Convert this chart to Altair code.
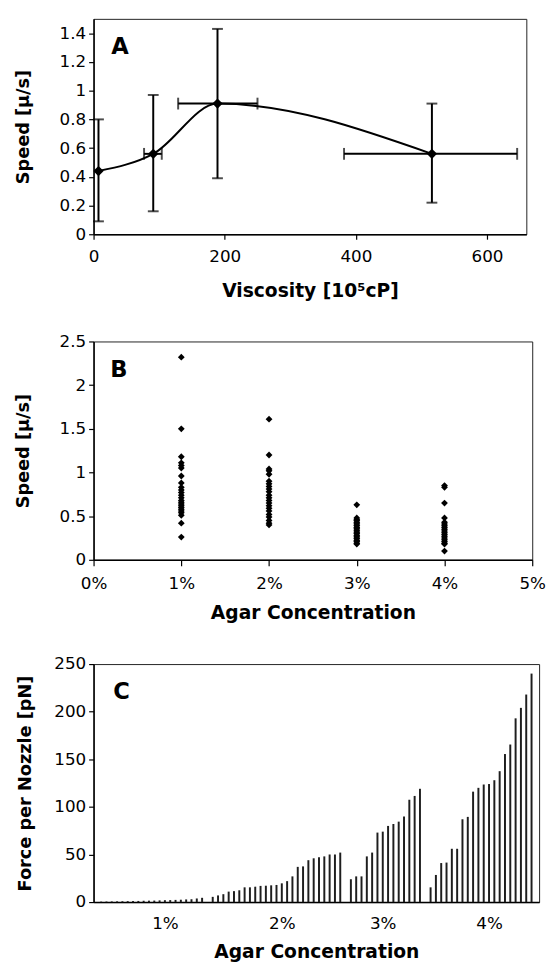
import altair as alt
import pandas as pd

FONT = "DejaVu Sans"

# ---------------- Panel A ----------------
visc = [7.5, 91, 189, 516]
speed_a = [0.44, 0.56, 0.91, 0.56]
speed_lo = [0.09, 0.16, 0.39, 0.22]
speed_hi = [0.80, 0.97, 1.43, 0.91]
visc_lo = [7.5, 77, 129, 382]
visc_hi = [7.5, 104, 250, 646]
a_xticks = [0, 200, 400, 600]
a_yticks = [0, 0.2, 0.4, 0.6, 0.8, 1.0, 1.2, 1.4]

# ---------------- Panel B ----------------
b_conc = [0.01, 0.02, 0.03, 0.04]
speeds_1pct = [2.32, 1.50, 1.18, 1.11, 1.08, 1.05, 0.96, 0.88, 0.83, 0.80, 0.77, 0.74,
               0.71, 0.68, 0.66, 0.64, 0.62, 0.60, 0.58, 0.56, 0.54, 0.51, 0.42, 0.26]
speeds_2pct = [1.61, 1.20, 1.04, 1.02, 0.98, 0.90, 0.87, 0.84, 0.81, 0.78, 0.74, 0.71,
               0.68, 0.65, 0.62, 0.59, 0.56, 0.52, 0.49, 0.45, 0.42, 0.40]
speeds_3pct = [0.63, 0.48, 0.46, 0.45, 0.43, 0.42, 0.40, 0.39, 0.37, 0.36, 0.34, 0.33,
               0.31, 0.30, 0.28, 0.27, 0.25, 0.24, 0.22, 0.21, 0.19, 0.18]
speeds_4pct = [0.85, 0.83, 0.65, 0.48, 0.43, 0.41, 0.39, 0.37, 0.35, 0.33, 0.31, 0.29,
               0.27, 0.25, 0.23, 0.21, 0.19, 0.18, 0.10]
b_xticks = [0, 0.01, 0.02, 0.03, 0.04, 0.05]
b_yticks = [0, 0.5, 1.0, 1.5, 2.0, 2.5]

# ---------------- Panel C ----------------
force_1pct = [0.5, 0.6, 0.7, 0.8, 0.9, 1.0, 1.1, 1.2, 1.4, 1.5, 1.6, 1.8, 2.0, 2.1,
              2.3, 2.5, 2.8, 3.0, 3.8, 4.5]
force_2pct = [5.5, 7, 8.3, 11, 11.5, 12.4, 15.5, 15.5, 16.2, 17, 17.2, 17.6, 18, 19.7,
              22, 27, 37, 37.5, 44, 46, 47, 48, 50, 50, 52]
force_3pct = [24, 27, 27, 48, 52, 73, 74, 80, 82, 84.5, 90, 107.5, 111.5, 119]
force_4pct = [15.5, 28.5, 41, 41.5, 56, 56, 87, 89.5, 116, 120, 123.5, 124, 128, 137.5,
              155.5, 165.5, 193, 204, 218, 240]
c_label_slots = [12, 34, 53, 73]
c_labels = ["1%", "2%", "3%", "4%"]
c_yticks = [0, 50, 100, 150, 200, 250]

panel_letters = ["A", "B", "C"]

LABEL_SIZE = 17
XTITLE_SIZE = 19
YTITLE_SIZE = 18

# ======================= build panel A =======================
dfa = pd.DataFrame({"visc": visc, "speed": speed_a, "slo": speed_lo, "shi": speed_hi,
                    "vlo": visc_lo, "vhi": visc_hi})
xsA = alt.Scale(domain=[0, 660], nice=False, zero=False)
ysA = alt.Scale(domain=[0, 1.5], nice=False)
axXA = alt.Axis(values=a_xticks, title="Viscosity [10⁵cP]", tickSize=5,
                labelPadding=10, titlePadding=17, titleFontSize=XTITLE_SIZE)
axYA = alt.Axis(values=a_yticks, format="~g", title="Speed [μ/s]", tickSize=5,
                labelPadding=3, titleX=-62, titleFontSize=YTITLE_SIZE)


def XA(f):
    return alt.X(f"{f}:Q", scale=xsA, axis=axXA)


def YA(f):
    return alt.Y(f"{f}:Q", scale=ysA, axis=axYA)


baseA = alt.Chart(dfa)
lineA = baseA.mark_line(interpolate="monotone", color="black", strokeWidth=2).encode(
    x=XA("visc"), y=YA("speed"))
vbarA = baseA.mark_rule(color="black", strokeWidth=2).encode(
    x=XA("visc"), y=YA("slo"), y2="shi:Q")
hbarA = baseA.transform_filter("datum.vhi > datum.vlo").mark_rule(
    color="black", strokeWidth=2).encode(x=XA("vlo"), x2="vhi:Q", y=YA("speed"))
capLoA = baseA.mark_tick(orient="horizontal", size=11, thickness=2, color="black").encode(
    x=XA("visc"), y=YA("slo"))
capHiA = baseA.mark_tick(orient="horizontal", size=11, thickness=2, color="black").encode(
    x=XA("visc"), y=YA("shi"))
capLA = baseA.transform_filter("datum.vhi > datum.vlo").mark_tick(
    orient="vertical", size=12, thickness=2, color="black").encode(x=XA("vlo"), y=YA("speed"))
capRA = baseA.transform_filter("datum.vhi > datum.vlo").mark_tick(
    orient="vertical", size=12, thickness=2, color="black").encode(x=XA("vhi"), y=YA("speed"))
ptsA = baseA.mark_point(shape="diamond", filled=True, size=110, color="black", opacity=1).encode(
    x=XA("visc"), y=YA("speed"))
letA = alt.Chart(pd.DataFrame({"t": [panel_letters[0]]})).mark_text(
    font=FONT, fontSize=23, fontWeight="bold", align="left", baseline="alphabetic",
    color="black").encode(text="t:N", x=alt.value(18), y=alt.value(36))

chartA = alt.layer(lineA, vbarA, hbarA, capLoA, capHiA, capLA, capRA, ptsA, letA).properties(
    width=440, height=219)

# ======================= build panel B =======================
b_rows = []
for c, vals in zip(b_conc, [speeds_1pct, speeds_2pct, speeds_3pct, speeds_4pct]):
    for v in vals:
        b_rows.append({"conc": c, "speed": v})
dfb = pd.DataFrame(b_rows)

ptsB = alt.Chart(dfb).mark_point(shape="diamond", filled=True, size=48, color="black",
                                  opacity=1).encode(
    x=alt.X("conc:Q", scale=alt.Scale(domain=[0, 0.05], nice=False),
            axis=alt.Axis(values=b_xticks, format=".0%", title="Agar Concentration",
                          tickSize=6, labelPadding=10, titlePadding=13,
                          titleFontSize=XTITLE_SIZE)),
    y=alt.Y("speed:Q", scale=alt.Scale(domain=[0, 2.5], nice=False),
            axis=alt.Axis(values=b_yticks, format="~g", title="Speed [μ/s]", tickSize=5,
                          labelPadding=3, titleX=-62, titleFontSize=YTITLE_SIZE)))
letB = alt.Chart(pd.DataFrame({"t": [panel_letters[1]]})).mark_text(
    font=FONT, fontSize=23, fontWeight="bold", align="left", baseline="alphabetic",
    color="black").encode(text="t:N", x=alt.value(17), y=alt.value(36))
chartB = alt.layer(ptsB, letB).properties(width=446, height=222)

# ======================= build panel C =======================
c_rows = []
slot = 0
for vals in [force_1pct, force_2pct, force_3pct, force_4pct]:
    for v in vals:
        c_rows.append({"slot": slot, "force": v})
        slot += 1
    slot += 1
n_slots = slot - 1
dfc = pd.DataFrame(c_rows)

label_expr = " : ".join(
    f"datum.value == {s} ? '{l}'" for s, l in zip(c_label_slots, c_labels)) + " : ''"

barsC = alt.Chart(dfc).mark_bar(size=2, color="#1e1e1e").encode(
    x=alt.X("slot:Q", scale=alt.Scale(domain=[-0.5, n_slots - 0.5], nice=False, zero=False),
            axis=alt.Axis(values=c_label_slots, labelExpr=label_expr,
                          title="Agar Concentration", ticks=False, tickSize=0,
                          labelPadding=14, titlePadding=11, titleFontSize=XTITLE_SIZE)),
    y=alt.Y("force:Q", scale=alt.Scale(domain=[0, 250], nice=False),
            axis=alt.Axis(values=c_yticks, title="Force per Nozzle [pN]", tickSize=5,
                          labelPadding=3, titleX=-60, titleFontSize=YTITLE_SIZE)))
letC = alt.Chart(pd.DataFrame({"t": [panel_letters[2]]})).mark_text(
    font=FONT, fontSize=23, fontWeight="bold", align="left", baseline="alphabetic",
    color="black").encode(text="t:N", x=alt.value(20), y=alt.value(36))
chartC = alt.layer(barsC, letC).properties(width=453, height=242)

chart = alt.vconcat(chartA, chartB, chartC, spacing=31).configure(
    padding={"left": 6, "top": 2, "right": 0, "bottom": 0},
    background="white",
).configure_axis(
    labelFont=FONT, labelFontSize=LABEL_SIZE, labelColor="black",
    titleFont=FONT, titleFontWeight="bold", titleColor="black",
    domainColor="black", domainWidth=1.5, tickColor="black", tickWidth=1.2,
    grid=False, labelFlush=False, labelOverlap=False,
).configure_view(stroke="#222", strokeWidth=1)

chart.save("out.html", embed_options={"renderer": "svg", "actions": False})
